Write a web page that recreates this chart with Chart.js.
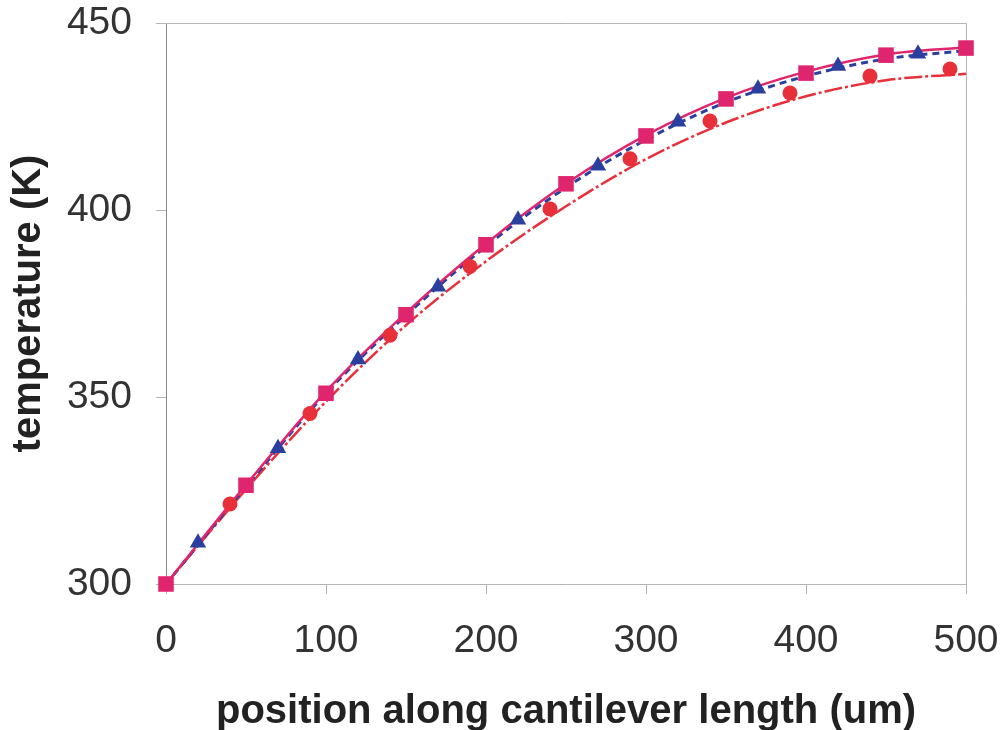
<!DOCTYPE html>
<html>
<head>
<meta charset="utf-8">
<script src="https://cdn.jsdelivr.net/npm/chart.js@4.4.0/dist/chart.umd.min.js"></script>
<style>
  body { margin: 0; background: #fff; }
  #wrap { width: 1003px; height: 730px; }
</style>
</head>
<body>
<div id="wrap"><canvas id="chart" width="1003" height="730"></canvas></div>
<script>
// marker positions (um) and temperatures (K)
const squareX = [0, 50, 100, 150, 200, 250, 300, 350, 400, 450, 500];
const squareY = [300, 326.4, 351, 372, 390.7, 407, 419.8, 429.7, 436.6, 441.4, 443.3];

const triangleX = [20, 70, 120, 170, 220, 270, 320, 370, 420, 470];
const triangleY = [311, 336.3, 360, 379.5, 397.4, 411.8, 423.6, 432.4, 438.5, 441.8];

const circleX = [40, 90, 140, 190, 240, 290, 340, 390, 440, 490];
const circleY = [321.4, 345.6, 366.5, 384.9, 400.3, 413.7, 423.8, 431.3, 435.8, 437.7];

// fitted curves
const curveX = [0, 50, 100, 150, 200, 250, 300, 350, 400, 450, 500];
const magentaCurve = [300, 326.5, 351.5, 372.5, 391, 407, 420, 430, 437, 441.6, 443.5];
const blueCurve = [300, 326, 351, 371.8, 390.3, 406, 418.8, 428.8, 435.8, 440.4, 442.6];
const redCurve = [300, 325.3, 348.8, 369.2, 386.3, 401, 413.6, 423.4, 430.4, 434.7, 436.4];

const xTicks = [0, 100, 200, 300, 400, 500];
const yTicks = [300, 350, 400, 450];

const MAGENTA = '#e0256f';
const BLUE = '#2b3f9f';
const RED = '#e8303a';

function pts(xs, ys) {
  return xs.map((x, i) => ({ x: x, y: ys[i] }));
}

// box around the plot area (top and right edges)
const frame = {
  id: 'frame',
  beforeDatasetsDraw(chart) {
    const a = chart.chartArea;
    const ctx = chart.ctx;
    ctx.save();
    ctx.strokeStyle = '#b4b4b4';
    ctx.lineWidth = 1;
    ctx.beginPath();
    ctx.moveTo(a.left, a.top + 0.5);
    ctx.lineTo(a.right + 0.5, a.top + 0.5);
    ctx.lineTo(a.right + 0.5, a.bottom);
    ctx.stroke();
    ctx.restore();
  }
};

new Chart(document.getElementById('chart'), {
  type: 'scatter',
  data: {
    datasets: [
      {
        label: 'squares',
        data: pts(squareX, squareY),
        pointStyle: 'rect',
        pointRadius: 11,
        backgroundColor: MAGENTA,
        borderColor: MAGENTA,
        borderWidth: 0,
        showLine: false,
        clip: false
      },
      {
        label: 'triangles',
        data: pts(triangleX, triangleY),
        pointStyle: 'triangle',
        pointRadius: 9.5,
        backgroundColor: BLUE,
        borderColor: BLUE,
        borderWidth: 0,
        showLine: false,
        clip: false
      },
      {
        label: 'circles',
        data: pts(circleX, circleY),
        pointStyle: 'circle',
        pointRadius: 7.5,
        backgroundColor: RED,
        borderColor: RED,
        borderWidth: 0,
        showLine: false,
        clip: false
      },
      {
        label: 'magenta fit',
        data: pts(curveX, magentaCurve),
        showLine: true,
        pointRadius: 0,
        borderColor: MAGENTA,
        borderWidth: 2.5,
        cubicInterpolationMode: 'monotone'
      },
      {
        label: 'blue fit',
        data: pts(curveX, blueCurve),
        showLine: true,
        pointRadius: 0,
        borderColor: BLUE,
        borderWidth: 3,
        borderDash: [7, 5],
        cubicInterpolationMode: 'monotone'
      },
      {
        label: 'red fit',
        data: pts(curveX, redCurve),
        showLine: true,
        pointRadius: 0,
        borderColor: RED,
        borderWidth: 2.5,
        borderDash: [18, 3, 3, 3],
        cubicInterpolationMode: 'monotone'
      }
    ]
  },
  options: {
    responsive: false,
    animation: false,
    layout: { padding: { left: 0, right: 37, top: 23, bottom: 0 } },
    plugins: {
      legend: { display: false },
      tooltip: { enabled: false }
    },
    scales: {
      x: {
        type: 'linear',
        min: 0,
        max: 500,
        afterBuildTicks(scale) { scale.ticks = xTicks.map(v => ({ value: v })); },
        afterFit(scale) {
          scale.height = 146;
          scale.paddingLeft = 0;
          scale.paddingRight = 0;
        },
        border: { display: true, color: '#b4b4b4', width: 1 },
        grid: { drawOnChartArea: false, drawTicks: true, tickLength: 10, color: '#b4b4b4' },
        ticks: {
          color: '#333',
          padding: 24,
          maxRotation: 0,
          font: { family: 'Liberation Sans', size: 39 }
        },
        title: {
          display: true,
          text: 'position along cantilever length (um)',
          color: '#222',
          padding: { top: 0, bottom: 0 },
          font: { family: 'Liberation Sans', size: 40, weight: 'bold', lineHeight: 0.9 }
        }
      },
      y: {
        type: 'linear',
        min: 300,
        max: 450,
        afterBuildTicks(scale) { scale.ticks = yTicks.map(v => ({ value: v })); },
        afterFit(scale) {
          scale.width = 166;
          scale.paddingTop = 0;
          scale.paddingBottom = 0;
        },
        border: { display: true, color: '#888', width: 1 },
        grid: { drawOnChartArea: false, drawTicks: true, tickLength: 10, color: '#b4b4b4' },
        ticks: {
          color: '#333',
          padding: 24,
          font: { family: 'Liberation Sans', size: 39 }
        },
        title: {
          display: true,
          text: 'temperature (K)',
          color: '#222',
          padding: { top: 5, bottom: 0 },
          font: { family: 'Liberation Sans', size: 40, weight: 'bold' }
        }
      }
    }
  },
  plugins: [frame]
});
</script>
</body>
</html>
